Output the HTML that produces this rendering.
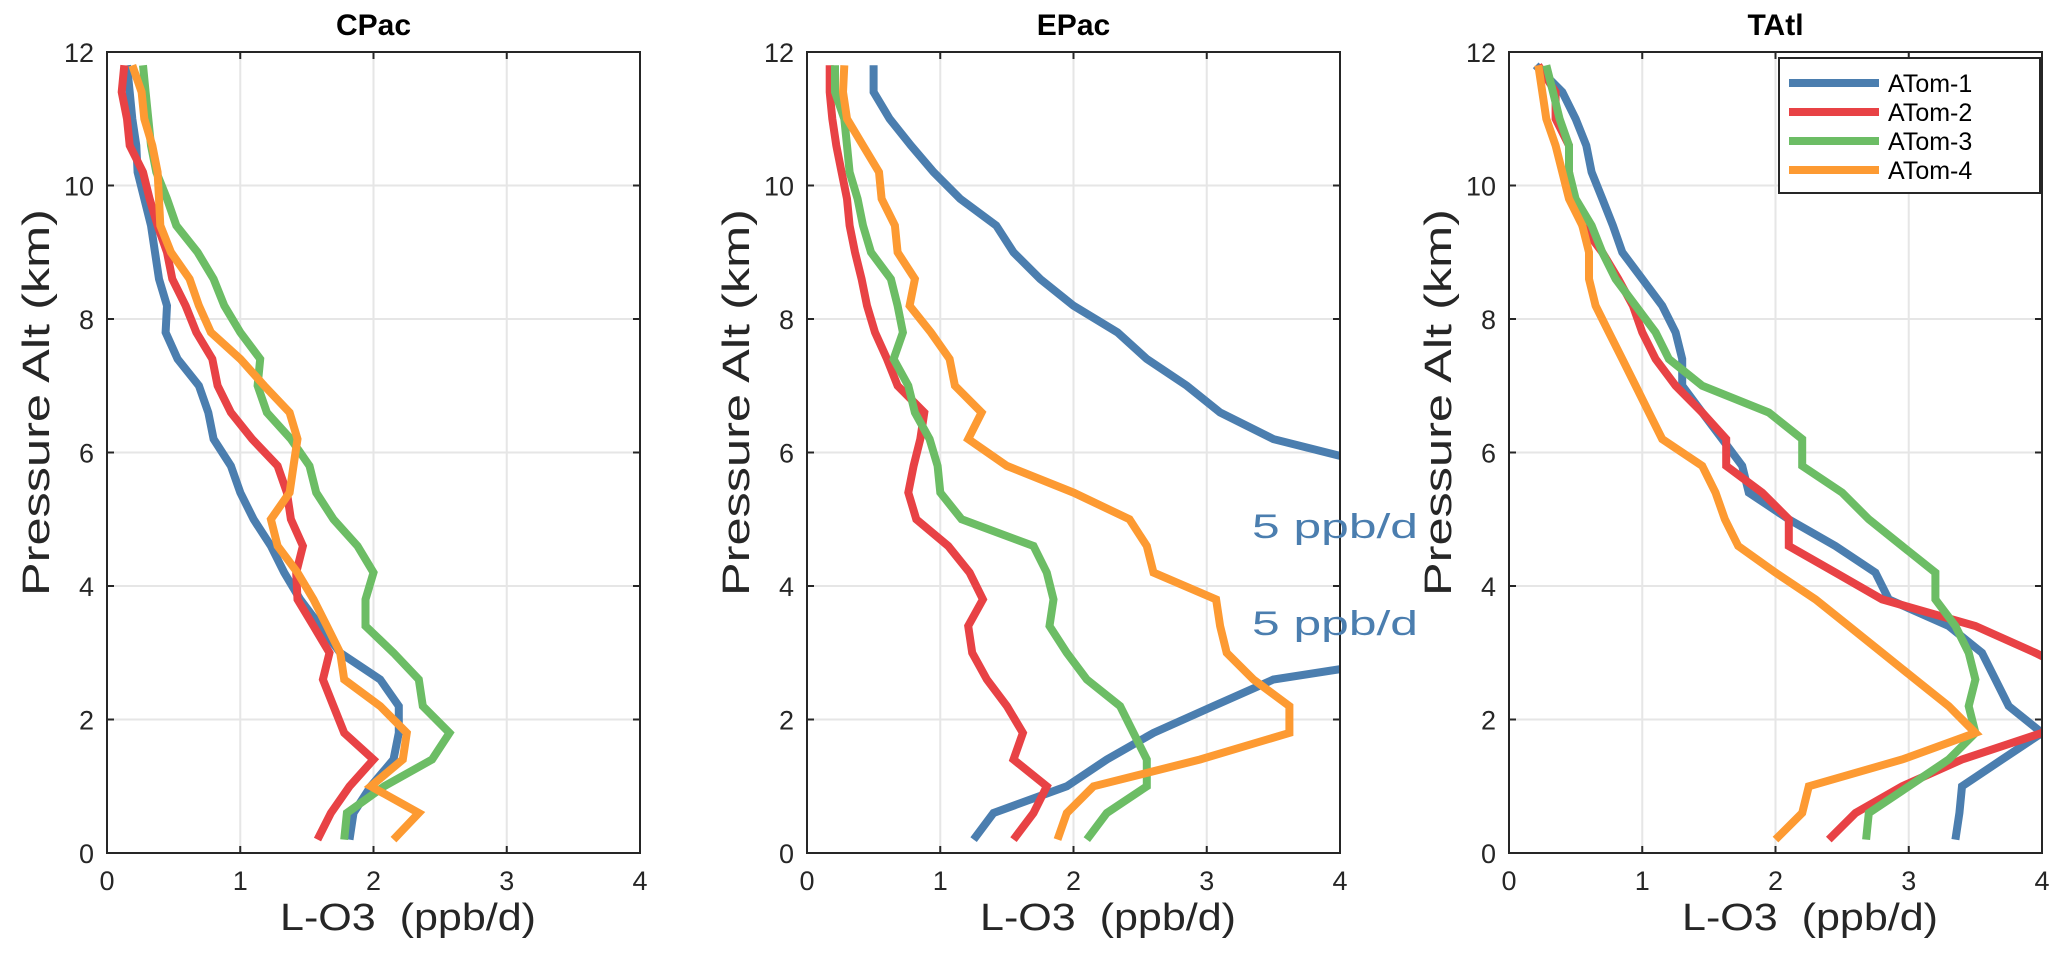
<!DOCTYPE html>
<html><head><meta charset="utf-8"><style>
body{margin:0;background:#fff}
svg{display:block;font-family:"Liberation Sans",sans-serif}
</style></head><body>
<svg id="fig" width="2067" height="968" viewBox="0 0 2067 968"></svg>
<script>
const altitudes=[11.8,11.4,11.0,10.6,10.2,9.8,9.4,9.0,8.6,8.2,7.8,7.4,7.0,6.6,6.2,5.8,5.4,5.0,4.6,4.2,3.8,3.4,3.0,2.6,2.2,1.8,1.4,1.0,0.6,0.2];
const panelTitles=["CPac","EPac","TAtl"];
const seriesNames=["ATom-1","ATom-2","ATom-3","ATom-4"];
const xTicks=[0,1,2,3,4];
const yTicks=[0,2,4,6,8,10,12];
const cpacA1=[0.15,0.17,0.19,0.22,0.23,0.28,0.33,0.36,0.39,0.45,0.44,0.53,0.69,0.76,0.8,0.93,1.0,1.1,1.23,1.33,1.45,1.6,1.75,2.05,2.19,2.19,2.15,1.98,1.85,1.82];
const cpacA2=[0.13,0.11,0.15,0.17,0.27,0.32,0.38,0.45,0.49,0.59,0.67,0.79,0.83,0.93,1.09,1.28,1.35,1.38,1.47,1.42,1.43,1.55,1.67,1.62,1.7,1.78,2.0,1.82,1.68,1.58];
const cpacA3=[0.27,0.29,0.31,0.33,0.37,0.45,0.52,0.68,0.8,0.88,1.0,1.15,1.13,1.2,1.38,1.52,1.57,1.7,1.88,2.0,1.94,1.94,2.15,2.34,2.37,2.57,2.44,2.08,1.8,1.78];
const cpacA4=[0.19,0.26,0.28,0.34,0.38,0.39,0.4,0.48,0.62,0.69,0.78,1.0,1.18,1.37,1.43,1.4,1.37,1.23,1.28,1.43,1.55,1.65,1.75,1.78,2.05,2.25,2.22,1.98,2.34,2.15];
const epacA1=[0.5,0.5,0.62,0.78,0.95,1.15,1.42,1.55,1.75,2.0,2.33,2.55,2.85,3.1,3.5,4.3,4.8,5.0,5.2,5.3,5.2,5.0,4.8,3.5,3.05,2.6,2.25,1.95,1.4,1.25];
const epacA2=[0.17,0.17,0.19,0.22,0.26,0.3,0.32,0.36,0.41,0.45,0.51,0.6,0.68,0.88,0.85,0.8,0.76,0.82,1.06,1.22,1.32,1.21,1.24,1.35,1.5,1.62,1.55,1.8,1.7,1.55];
const epacA3=[0.21,0.21,0.28,0.3,0.32,0.38,0.42,0.48,0.63,0.68,0.72,0.65,0.76,0.81,0.92,0.98,1.0,1.16,1.7,1.8,1.85,1.82,1.95,2.1,2.35,2.45,2.55,2.55,2.25,2.1];
const epacA4=[0.28,0.27,0.3,0.42,0.54,0.56,0.66,0.68,0.81,0.77,0.93,1.07,1.11,1.31,1.21,1.5,2.0,2.42,2.55,2.6,3.07,3.1,3.15,3.35,3.62,3.62,2.95,2.15,1.95,1.88];
const tatlA1=[0.2,0.4,0.5,0.58,0.62,0.7,0.78,0.85,1.0,1.15,1.25,1.3,1.3,1.45,1.6,1.75,1.8,2.1,2.45,2.75,2.85,3.3,3.55,3.65,3.75,4.0,3.7,3.4,3.38,3.35];
const tatlA2=[0.22,0.35,0.35,0.45,0.45,0.48,0.55,0.7,0.82,0.93,1.0,1.1,1.25,1.45,1.63,1.63,1.9,2.1,2.1,2.45,2.8,3.5,3.95,4.35,4.2,4.0,3.4,2.95,2.6,2.4];
const tatlA3=[0.28,0.33,0.38,0.45,0.45,0.5,0.62,0.7,0.8,0.95,1.1,1.2,1.45,1.95,2.2,2.2,2.5,2.7,2.95,3.2,3.2,3.35,3.45,3.5,3.45,3.5,3.3,3.0,2.7,2.68];
const tatlA4=[0.22,0.25,0.28,0.35,0.4,0.45,0.55,0.6,0.6,0.65,0.75,0.85,0.95,1.05,1.15,1.45,1.55,1.62,1.72,2.0,2.3,2.55,2.8,3.05,3.3,3.5,2.95,2.25,2.2,2.0];

const panelSeries=[[cpacA1,cpacA2,cpacA3,cpacA4],[epacA1,epacA2,epacA3,epacA4],[tatlA1,tatlA2,tatlA3,tatlA4]];
const colors=["#4b7eaf","#e84245","#6cbd65","#fd9a32"];
const NS="http://www.w3.org/2000/svg";
const svg=document.getElementById('fig');
const lefts=[107,807,1509], W=533, axTop=52, axBottom=853;
function mk(tag,attrs,parent){const e=document.createElementNS(NS,tag);for(const k in attrs)e.setAttribute(k,attrs[k]);(parent||svg).appendChild(e);return e;}
const defs=mk('defs',{});
panelTitles.forEach((t,p)=>{
  const L=lefts[p];
  const xs=v=>L+v/4*W;
  const ys=v=>axBottom-v/12*(axBottom-axTop);
  const g=mk('g',{});
  
  
  const cp=mk('clipPath',{id:'clip'+p},defs);
  mk('rect',{x:L,y:axTop,width:W,height:axBottom-axTop},cp);
  xTicks.forEach(v=>{
    if(v>0&&v<4){const l=mk('line',{x1:xs(v),x2:xs(v),y1:axTop,y2:axBottom,stroke:'#e6e6e6','stroke-width':2},g);
    
    }
    mk('line',{x1:xs(v),x2:xs(v),y1:axBottom,y2:axBottom-7,stroke:'#262626','stroke-width':2},g);
    mk('line',{x1:xs(v),x2:xs(v),y1:axTop,y2:axTop+7,stroke:'#262626','stroke-width':2},g);
    const tx=mk('text',{x:xs(v),y:axBottom+37,'text-anchor':'middle','font-size':27,fill:'#262626'},g);
    tx.textContent=v;
    
    
  });
  yTicks.forEach(v=>{
    if(v>0&&v<12){const l=mk('line',{x1:L,x2:L+W,y1:ys(v),y2:ys(v),stroke:'#e6e6e6','stroke-width':2},g);
    
    }
    mk('line',{x1:L,x2:L+7,y1:ys(v),y2:ys(v),stroke:'#262626','stroke-width':2},g);
    mk('line',{x1:L+W,x2:L+W-7,y1:ys(v),y2:ys(v),stroke:'#262626','stroke-width':2},g);
    const tx=mk('text',{x:L-13,y:ys(v)+10,'text-anchor':'end','font-size':27,fill:'#262626'},g);
    tx.textContent=v;
    
    
  });
  panelSeries[p].forEach((arr,s)=>{
    const pts=arr.map((v,i)=>xs(v).toFixed(1)+','+ys(altitudes[i]).toFixed(1)).join(' ');
    const pl=mk('polyline',{points:pts,fill:'none',stroke:colors[s],'stroke-width':8,'clip-path':'url(#clip'+p+')'},g);
    
    
  });
  const box=mk('rect',{x:L,y:axTop,width:W,height:axBottom-axTop,fill:'none',stroke:'#262626','stroke-width':2},g);
  
  
  const ti=mk('text',{x:L+W/2,y:35,'text-anchor':'middle','font-size':30,'font-weight':'bold',fill:'#000'},g);
  ti.textContent=t;
  
  
  const xl=mk('text',{x:L+173,y:930,'font-size':38,fill:'#262626',textLength:256,lengthAdjust:'spacingAndGlyphs'},g);
  xl.textContent='L-O3\u00a0\u00a0(ppb/d)';
  
  
  const yl=mk('text',{x:0,y:0,'font-size':38,fill:'#262626',textLength:387,lengthAdjust:'spacingAndGlyphs',transform:'translate('+(L-58)+',596) rotate(-90)'},g);
  yl.textContent='Pressure Alt (km)';
  
  
});
[[538,'5 ppb/d'],[635,'5 ppb/d']].forEach(a=>{
  const t=mk('text',{x:1252,y:a[0],'font-size':34,fill:'#4b7eaf',textLength:166,lengthAdjust:'spacingAndGlyphs'});
  t.textContent=a[1];
  
  
});
const lg=mk('g',{});


mk('rect',{x:1779,y:58,width:261,height:135,fill:'#fff',stroke:'#262626','stroke-width':2},lg);
seriesNames.forEach((n,i)=>{
  const y=83+i*29;
  const l=mk('line',{x1:1789,x2:1879,y1:y,y2:y,stroke:colors[i],'stroke-width':8},lg);
  
  
  const t=mk('text',{x:1888,y:y+9,'font-size':25,fill:'#000'},lg);
  t.textContent=n;
  
  
});
</script>
</body></html>
